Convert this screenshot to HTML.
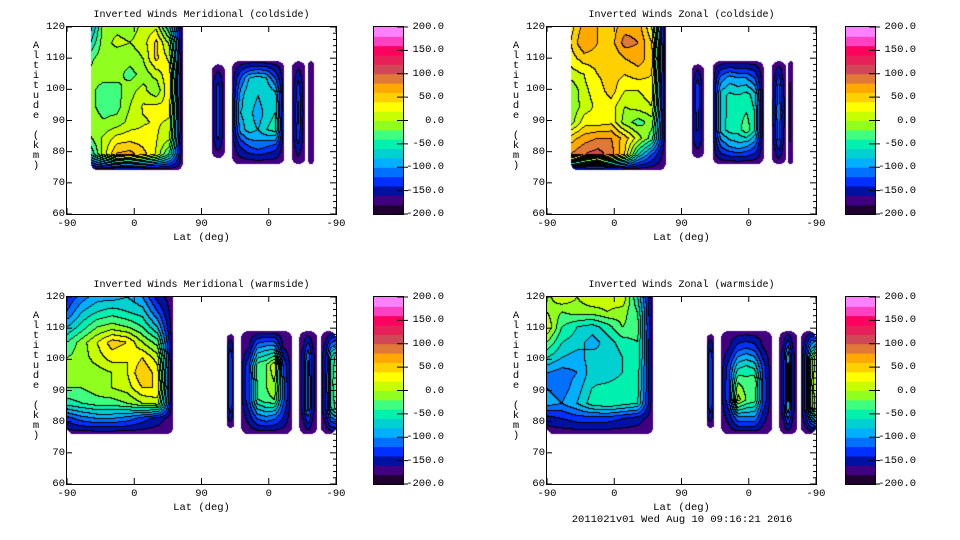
<!DOCTYPE html>
<html><head><meta charset="utf-8">
<style>
html,body{margin:0;padding:0;background:#fff;}
#root{position:relative;width:960px;height:540px;overflow:hidden;background:#fff;font-family:"Liberation Mono",monospace;font-size:10.5px;color:#000;}
.t{position:absolute;white-space:pre;line-height:12px;}
.ti{font-size:10px;}
canvas{position:absolute;}
</style></head>
<body>
<div id="root"></div>
<script>
// ---- data: color bar ----
const cbLabels = ["200.0","150.0","100.0","50.0","0.0","-50.0","-100.0","-150.0","-200.0"];
const cbColors = ["#200030","#400080","#0010a0","#0030ff","#0070ff","#00b0ff","#00d0d0","#00f0b0","#40ff80","#90ff20","#c8ff00","#ffff00","#ffd000","#ffa800","#e07838","#d04858","#e8205a","#ff0060","#ff40c0","#ff80ff"];
const xTickLabels = ["-90","0","90","0","-90"];
const yTickLabels = ["60","70","80","90","100","110","120"];
const panelTitles = ["Inverted Winds Meridional (coldside)","Inverted Winds Zonal (coldside)","Inverted Winds Meridional (warmside)","Inverted Winds Zonal (warmside)"];

// ---- data: blocks [u0,u1,alt0,alt1] (u = 0..360 along the x axis) ----
const tlBlocks = [[32,155,74,120],[194,211,78,108],[221,291,76,109],[301,319,76,109],[323,330,76,109]];
const trBlocks = [[32,159,74,120],[194,210,78,108],[222,290,76,109],[301,320,76,109],[323,329,76,109]];
const blBlocks = [[0,142,76,120],[214,224,78,108],[233,301,76,109],[311,335,76,109],[340,368,76,109]];
const brBlocks = [[0,142,76,120],[214,224,78,108],[233,301,76,109],[311,335,76,109],[340,368,76,109]];
const E=-172;
// rows top (alt1) to bottom (alt0)
const tlB1 = [[-90,-10,-5,-10,5,15,-60,E],[-60,-8,5,0,10,45,-5,E],[-25,-5,-12,-12,0,45,15,E],[-15,-12,-12,-28,-12,8,35,E],[-15,-28,-28,-8,8,-18,40,E],[-15,-28,-28,0,22,25,25,E],[-12,-18,-12,8,18,22,18,E],[-22,5,28,32,28,22,5,E],[-60,10,62,68,48,18,-45,E],[E,E,E,E,E,E,E,E]];
const tlB2 = [[E,E,E,E,E],[E,-150,-130,-150,E],[E,-150,-130,-150,E],[E,-150,-130,-150,E],[E,E,E,E,E]];
const tlB3 = [[E,E,E,E,E,E,E],[E,-120,-80,-70,-80,-120,E],[E,-90,-60,-80,-60,-70,E],[E,-80,-70,-95,-70,-60,E],[E,-90,-70,-80,-60,-50,E],[E,-140,-120,-110,-120,-130,E],[E,E,E,E,E,E,E]];
const tlB4 = [[E,E,E,E,E],[E,-155,-130,-155,E],[E,-150,-110,-150,E],[E,-155,-130,-155,E],[E,E,E,E,E]];
const tlB5 = [[E,E,E],[E,-168,E],[E,-168,E],[E,E,E]];
const trB1 = [[30,70,60,50,70,70,20,E],[40,80,60,50,90,80,40,E],[30,50,50,40,60,70,50,E],[10,20,40,50,40,50,40,E],[-20,15,30,50,20,20,30,E],[-20,10,25,30,0,10,20,E],[-10,30,30,35,-10,-30,-10,E],[50,70,80,80,50,10,-30,E],[80,100,110,90,40,-60,-120,E],[E,E,E,E,E,E,E,E]];
const trB2 = [[E,E,E,E,E],[E,-150,-120,-150,E],[E,-150,-130,-150,E],[E,-150,-140,-150,E],[E,E,E,E,E]];
const trB3 = [[E,E,E,E,E,E,E],[E,-110,-90,-100,-100,-120,E],[E,-70,-55,-60,-50,-70,E],[E,-70,-55,-50,-40,-60,E],[E,-70,-50,-50,-25,-60,E],[E,-120,-100,-90,-100,-120,E],[E,E,E,E,E,E,E]];
const trB4 = [[E,E,E,E,E],[E,-150,-110,-150,E],[E,-140,-100,-140,E],[E,-150,-110,-150,E],[E,E,E,E,E]];
const trB5 = [[E,E,E],[E,-185,E],[E,-185,E],[E,E,E]];
const blB1 = [[-140,-110,-90,-90,-80,-100,-150,E],[-120,-80,-60,-50,-60,-70,-120,E],[-80,-50,-20,-10,-20,-40,-80,E],[-40,-10,20,50,40,0,-30,E],[-20,-10,10,30,20,40,10,E],[-10,-15,-10,0,20,60,30,E],[-20,-20,-10,0,10,40,40,E],[-50,-40,-30,-30,-20,0,10,E],[-130,-110,-100,-100,-110,-130,-150,E],[E,E,E,E,E,E,E,E]];
const blB2 = [[E,E,E,E,E],[E,-140,-120,-140,E],[E,-140,-120,-140,E],[E,-140,-120,-140,E],[E,E,E,E,E]];
const blB3 = [[E,E,E,E,E,E,E],[E,-160,-100,-90,-90,-160,E],[E,-120,-30,-20,20,-120,E],[E,-120,-35,-20,0,-110,E],[E,-120,-40,-25,-20,-110,E],[E,-150,-110,-100,-110,-140,E],[E,E,E,E,E,E,E]];
const blB4 = [[E,E,E,E,E],[E,-150,-100,-150,E],[E,-150,-90,-150,E],[E,-150,-90,-150,E],[E,E,E,E,E]];
const blB5 = [[E,E,E,E,E],[E,-140,-60,-30,-60],[E,-140,-50,-20,-50],[E,-140,-60,-30,-60],[E,E,E,E,E]];
const brB1 = [[-10,20,0,20,10,20,-60,E],[0,-20,-10,-10,0,-10,-40,E],[20,-40,-60,-70,-50,-20,-30,E],[-20,-60,-70,-90,-70,-50,-40,E],[-60,-80,-90,-70,-80,-60,-40,E],[-100,-110,-100,-70,-80,-60,-50,E],[-100,-110,-90,-60,-50,-40,-50,E],[-90,-100,-80,-50,-40,-50,-60,E],[-150,-140,-130,-130,-130,-140,-150,E],[E,E,E,E,E,E,E,E]];
const brB2 = [[E,E,E,E,E],[E,-140,-120,-140,E],[E,-140,-120,-140,E],[E,-140,-120,-140,E],[E,E,E,E,E]];
const brB3 = [[E,E,E,E,E,E,E],[E,-160,-130,-120,-130,-160,E],[E,-130,-70,-60,-70,-130,E],[E,-120,-20,-30,-20,-120,E],[E,-120,10,-20,-30,-120,E],[E,-150,-100,-100,-100,-150,E],[E,E,E,E,E,E,E]];
const brB4 = [[E,E,E,E,E],[E,-150,-80,-150,E],[E,-150,-70,-150,E],[E,-150,-80,-150,E],[E,E,E,E,E]];
const brB5 = [[E,E,E,E,E],[E,-130,-40,20,-40],[E,-130,-30,30,-30],[E,-130,-40,20,-40],[E,E,E,E,E]];

const panels = [
 {px:67,py:27,cb:374,blocks:tlBlocks,grids:[tlB1,tlB2,tlB3,tlB4,tlB5],name:'meridional-coldside'},
 {px:547,py:27,cb:846,blocks:trBlocks,grids:[trB1,trB2,trB3,trB4,trB5],name:'zonal-coldside'},
 {px:67,py:297,cb:374,blocks:blBlocks,grids:[blB1,blB2,blB3,blB4,blB5],name:'meridional-warmside'},
 {px:547,py:297,cb:846,blocks:brBlocks,grids:[brB1,brB2,brB3,brB4,brB5],name:'zonal-warmside'}
];
const PW=269, PH=187;
const root=document.getElementById('root');
function xScale(u){return u/360*PW;}
function yScale(a){return (120-a)/60*PH;}
function addText(txt,x,y,align,parent){
  const d=document.createElement('div');
  d.className='t';d.textContent=txt;
  d.style.top=(y-6)+'px';
  if(align==='c'){d.style.left=(x-200)+'px';d.style.width='400px';d.style.textAlign='center';}
  else if(align==='r'){d.style.left=(x-200)+'px';d.style.width='200px';d.style.textAlign='right';}
  else d.style.left=x+'px';
  (parent||root).appendChild(d);return d;
}
function sample(grid,blk,u,a){
  const nr=grid.length,nc=grid[0].length;
  const fx=(u-blk[0])/(blk[1]-blk[0])*(nc-1);
  const fy=(blk[3]-a)/(blk[3]-blk[2])*(nr-1);
  const i=Math.max(0,Math.min(Math.floor(fx),nc-2)),j=Math.max(0,Math.min(Math.floor(fy),nr-2));
  const tx=fx-i,ty=fy-j;
  const v0=grid[j][i]*(1-tx)+grid[j][i+1]*tx;
  const v1=grid[j+1][i]*(1-tx)+grid[j+1][i+1]*tx;
  return v0*(1-ty)+v1*ty;
}
function inRounded(x,y,x0,y0,x1,y1,r,roundTop){
  const cx=x<x0+r?x0+r:(x>x1-r?x1-r:x);
  let cy=y;
  if(y>y1-r)cy=y1-r; else if(roundTop&&y<y0+r)cy=y0+r; else return true;
  if(cx===x)return true;
  const dx=x-cx,dy=y-cy;return dx*dx+dy*dy<=r*r;
}
function hex(c){return [parseInt(c.substr(1,2),16),parseInt(c.substr(3,2),16),parseInt(c.substr(5,2),16)];}
const rgb=cbColors.map(hex);
panels.forEach((p,pi)=>{
  const tt=addText(panelTitles[pi],p.px+PW/2,p.py-11,'c');
  tt.classList.add('ti');
  
  
  const cv=document.createElement('canvas');
  cv.width=PW;cv.height=PH;cv.style.left=p.px+'px';cv.style.top=p.py+'px';
  
  
  root.appendChild(cv);
  const ctx=cv.getContext('2d');const img=ctx.createImageData(PW,PH);
  const band=new Int16Array(PW*PH).fill(-1);
  for(let y=0;y<PH;y++){const a=120-(y+0.5)/PH*60;
    for(let x=0;x<PW;x++){const u=(x+0.5)/PW*360;
      for(let b=0;b<p.blocks.length;b++){const bk=p.blocks[b];
        if(u>=bk[0]&&u<=bk[1]&&a>=bk[2]&&a<=bk[3]){
          const X0=xScale(bk[0]),X1=xScale(Math.min(bk[1],360)),Y0=yScale(bk[3]),Y1=yScale(bk[2]);
          const r=Math.min(7,(X1-X0)/2);
          if(!inRounded(x+0.5,y+0.5,X0,Y0,X1,Y1,r,b>0))break;
          const v=sample(p.grids[b],bk,u,a);
          band[y*PW+x]=Math.max(0,Math.min(19,Math.floor((v+200)/20)));break;}
      }}}
  for(let y=0;y<PH;y++)for(let x=0;x<PW;x++){const k=y*PW+x,bd=band[k];let c=[255,255,255];
    if(bd>=0){c=rgb[bd];
      const r=x<PW-1?band[k+1]:-1,d=y<PH-1?band[k+PW]:-1;
      if((r>=0&&r!==bd)||(d>=0&&d!==bd))c=[0,0,0];}
    img.data[k*4]=c[0];img.data[k*4+1]=c[1];img.data[k*4+2]=c[2];img.data[k*4+3]=255;}
  ctx.putImageData(img,0,0);
  const ns='http://www.w3.org/2000/svg';
  const sv=document.createElementNS(ns,'svg');
  sv.setAttribute('width',PW+2);sv.setAttribute('height',PH+2);
  sv.style.position='absolute';sv.style.left=(p.px-1)+'px';sv.style.top=(p.py-1)+'px';
  
  
  let s=`<rect x="0.5" y="0.5" width="${PW+1}" height="${PH+1}" fill="none" stroke="#000"/>`;
  xTickLabels.forEach((l,i)=>{const x=1+xScale(i*90);
    s+=`<line x1="${x}" y1="${PH+1}" x2="${x}" y2="${PH-5}" stroke="#000"/><line x1="${x}" y1="0" x2="${x}" y2="6" stroke="#000"/>`;});
  for(let a=60;a<=120;a+=2){const y=1+yScale(a);const L=(a%10===0)?6:3;
    s+=`<line x1="${PW+1}" y1="${y}" x2="${PW+1-L}" y2="${y}" stroke="#000"/>`;
    if(a%10===0)s+=`<line x1="0" y1="${y}" x2="6" y2="${y}" stroke="#000"/>`;}
  sv.innerHTML=s;root.appendChild(sv);
  xTickLabels.forEach((l,i)=>{const e=addText(l,p.px+xScale(i*90),p.py+PH+10,'c');
    
    });
  const xl=addText('Lat (deg)',p.px+PW/2,p.py+PH+24,'c');
  
  
  yTickLabels.forEach((l,i)=>{const e=addText(l,p.px-2,p.py+yScale(60+i*10),'r');
    
    });
  const yt=document.createElement('div');
  
  
  yt.style.cssText=`position:absolute;left:${p.px-36}px;top:${p.py+14}px;width:10px;text-align:center;line-height:10px;`;
  yt.innerHTML='Altitude (km)'.split('').map(ch=>ch===' '?'<br>':ch+'<br>').join('');
  root.appendChild(yt);
  const cb=document.createElementNS(ns,'svg');
  cb.setAttribute('width',40);cb.setAttribute('height',PH+2);
  cb.style.position='absolute';cb.style.left=(p.cb-1)+'px';cb.style.top=(p.py-1)+'px';
  
  
  let cs='';const bh=PH/cbColors.length;
  cbColors.forEach((c,i)=>{cs+=`<rect x="1" y="${1+PH-(i+1)*bh}" width="29" height="${bh+0.5}" fill="${c}"/>`;});
  cs+=`<rect x="0.5" y="0.5" width="30" height="${PH+1}" fill="none" stroke="#000"/>`;
  cbLabels.forEach((l,i)=>{const y=1+i*PH/8;cs+=`<line x1="24" y1="${y}" x2="30" y2="${y}" stroke="#000"/><line x1="31" y1="${y}" x2="35" y2="${y}" stroke="#000"/>`;});
  cb.innerHTML=cs;root.appendChild(cb);
  cbLabels.forEach((l,i)=>{const e=addText(l,p.cb+70,p.py+i*PH/8,'r');
    
    });
});
const ft=addText('2011021v01 Wed Aug 10 09:16:21 2016',682,520,'c');


</script>
</body></html>
